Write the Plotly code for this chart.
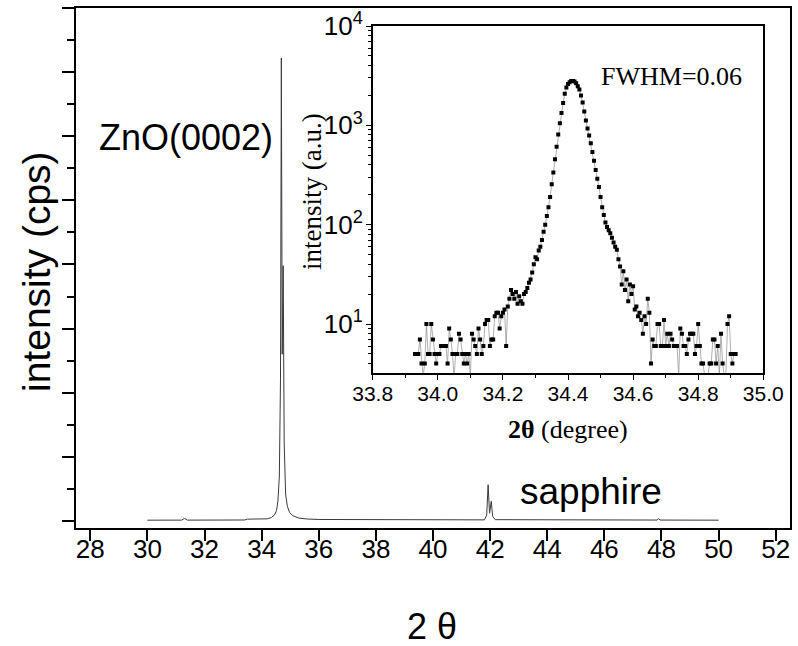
import plotly.graph_objects as go

# ---- full 2theta scan (degrees, counts per second) ----
scan_2theta = [30.00, 31.20, 31.30, 31.40, 33.40, 33.50, 34.20, 34.35, 34.45, 34.52,
               34.57, 34.62, 34.66, 34.69, 34.72, 34.755, 34.79, 34.84, 34.90, 34.98,
               35.10, 35.30, 35.60, 36.00, 41.80, 41.88, 41.93, 41.98, 42.04, 42.09,
               42.18, 47.85, 47.90, 47.95, 50.00]
scan_cps = [120, 130, 400, 130, 150, 280, 330, 550, 950, 1600,
            3100, 7000, 22000, 72200, 26000, 39800, 12000, 4200, 2300, 1300,
            800, 450, 300, 230, 170, 900, 5650, 1200, 3070, 700,
            200, 140, 380, 140, 120]

# ---- fine scan around ZnO(0002) (inset, log scale) ----
rc_start = 33.930
rc_step = 0.005
rc_counts = [
    5, 5, 5, 7, 4, 3, 4, 10, 5, 5,
    10, 7, 5, 4, 5, 5, 6, 6, 6, 6,
    4, 9, 7, 5, 3, 5, 5, 8, 7, 5,
    4, 5, 4, 5, 3, 8, 7, 6, 5, 9,
    7, 5, 6, 10, 11, 11, 6, 7, 7, 12,
    13, 13, 9, 12, 13, 14, 6, 15, 18, 22,
    20, 18, 21, 16, 19, 17, 16, 20, 21, 23,
    26, 28, 33, 40, 47, 45, 55, 60, 70, 85,
    100, 122, 150, 190, 255, 335, 455, 610, 810, 1050,
    1330, 1680, 2080, 2400, 2600, 2720, 2790, 2800, 2760, 2650,
    2480, 2300, 2000, 1700, 1380, 1120, 930, 790, 660, 540,
    440, 355, 290, 240, 190, 150, 125, 105, 95, 88,
    82, 74, 66, 60, 56, 45, 38, 25, 34, 22,
    28, 17, 25, 20, 24, 14, 15, 12, 13, 11,
    8, 12, 10, 18, 13, 4, 7, 6, 6, 10,
    10, 6, 6, 11, 6, 8, 6, 8, 7, 6,
    6, 6, 3, 9, 8, 6, 6, 5, 7, 8,
    8, 8, 5, 6, 10, 6, 4, 4, 3, 3,
    3, 4, 4, 7, 7, 4, 6, 3, 8, 4,
    3, 3, 10, 12, 5, 4, 5, 5,
]
rc_2theta = [round(rc_start + i * rc_step, 3) for i in range(len(rc_counts))]

main_ticks = list(range(28, 53, 2))
inset_log_ticks = [10, 100, 1000, 10000]
inset_log_text = ["10<sup>1</sup>", "10<sup>2</sup>", "10<sup>3</sup>", "10<sup>4</sup>"]

W, H = 798, 646
ML, MR, MT, MB = 76, 8, 8, 118
PW, PH = W - ML - MR, H - MT - MB


def px_x(px):
    return (px - ML) / PW


def px_y(py):
    return (H - MB - py) / PH


SANS = "Arial, Liberation Sans, sans-serif"
SERIF = "Times New Roman, Liberation Serif, serif"

fig = go.Figure()

fig.add_trace(go.Scatter(
    x=scan_2theta, y=scan_cps, mode="lines",
    line=dict(color="#3a3a3a", width=1),
    xaxis="x", yaxis="y", hoverinfo="skip",
))

fig.add_trace(go.Scatter(
    x=rc_2theta, y=rc_counts, mode="lines+markers",
    line=dict(color="#8c8c8c", width=0.7),
    marker=dict(symbol="square", size=4, color="black", line=dict(width=0)),
    xaxis="x2", yaxis="y2", hoverinfo="skip",
))

fig.update_layout(
    template="none",
    width=W, height=H,
    margin=dict(l=ML, r=MR, t=MT, b=MB, pad=0),
    plot_bgcolor="white", paper_bgcolor="white",
    showlegend=False,
    xaxis=dict(
        range=[27.5, 52.5], tickvals=main_ticks, automargin=False,
        ticks="outside", ticklen=11, tickwidth=2, tickcolor="black",
        ticklabelstandoff=-14,
        showline=True, linecolor="black", linewidth=2, mirror=True,
        showgrid=False, zeroline=False,
        tickfont=dict(family=SANS, size=26, color="black"),
    ),
    yaxis=dict(
        range=[-1100, 80000], tick0=0, dtick=10000, automargin=False,
        ticks="outside", ticklen=12, tickwidth=2, tickcolor="black",
        showticklabels=False,
        minor=dict(dtick=5000, ticks="outside", ticklen=7, tickwidth=2,
                   tickcolor="black", showgrid=False),
        showline=True, linecolor="black", linewidth=2, mirror=True,
        showgrid=False, zeroline=False,
    ),
    xaxis2=dict(
        domain=[px_x(372.7), px_x(763.3)], anchor="y2", automargin=False,
        range=[33.8, 35.0], tick0=33.8, dtick=0.2, tickformat=".1f",
        ticks="outside", ticklen=5, tickwidth=1.2, tickcolor="black",
        ticklabelstandoff=-4,
        minor=dict(dtick=0.1, ticks="outside", ticklen=3, tickwidth=1,
                   tickcolor="black", showgrid=False),
        showline=True, linecolor="black", linewidth=1.5, mirror=True,
        showgrid=False, zeroline=False,
        tickfont=dict(family=SANS, size=21, color="black"),
    ),
    yaxis2=dict(
        domain=[px_y(373), px_y(26)], anchor="x2", automargin=False,
        type="log", range=[0.507, 4],
        tickvals=inset_log_ticks, ticktext=inset_log_text,
        ticks="outside", ticklen=5, tickwidth=1.2, tickcolor="black",
        ticklabelstandoff=-2,
        minor=dict(dtick="D1", ticks="outside", ticklen=3, tickwidth=1,
                   tickcolor="black", showgrid=False),
        showline=True, linecolor="black", linewidth=1.5, mirror=True,
        showgrid=False, zeroline=False,
        tickfont=dict(family=SANS, size=26, color="black"),
    ),
)

annotations = [
    # peak labels
    dict(x=px_x(186), y=px_y(137), xref="paper", yref="paper",
         text="ZnO(0002)", font=dict(family=SANS, size=36, color="black")),
    dict(x=px_x(591), y=px_y(491), xref="paper", yref="paper",
         text="sapphire", font=dict(family=SANS, size=37, color="black")),
    # main axis titles
    dict(x=px_x(432), y=px_y(626), xref="paper", yref="paper",
         text="2 θ", font=dict(family=SANS, size=36, color="black")),
    dict(x=px_x(36), y=px_y(272), xref="paper", yref="paper", textangle=-90,
         text="intensity (cps)", font=dict(family=SANS, size=39, color="black")),
    # inset texts
    dict(x=px_x(671), y=px_y(77), xref="paper", yref="paper",
         text="FWHM=0.06", font=dict(family=SERIF, size=26, color="black")),
    dict(x=px_x(568), y=px_y(429), xref="paper", yref="paper",
         text="<b>2θ</b> (degree)", font=dict(family=SERIF, size=26, color="black")),
    dict(x=px_x(312), y=px_y(192), xref="paper", yref="paper", textangle=-90,
         text="intensity (a.u.)", font=dict(family=SERIF, size=27, color="black")),
]
for a in annotations:
    a.update(showarrow=False, xanchor="center", yanchor="middle")
fig.update_layout(annotations=annotations)

fig.write_html("out.html")
